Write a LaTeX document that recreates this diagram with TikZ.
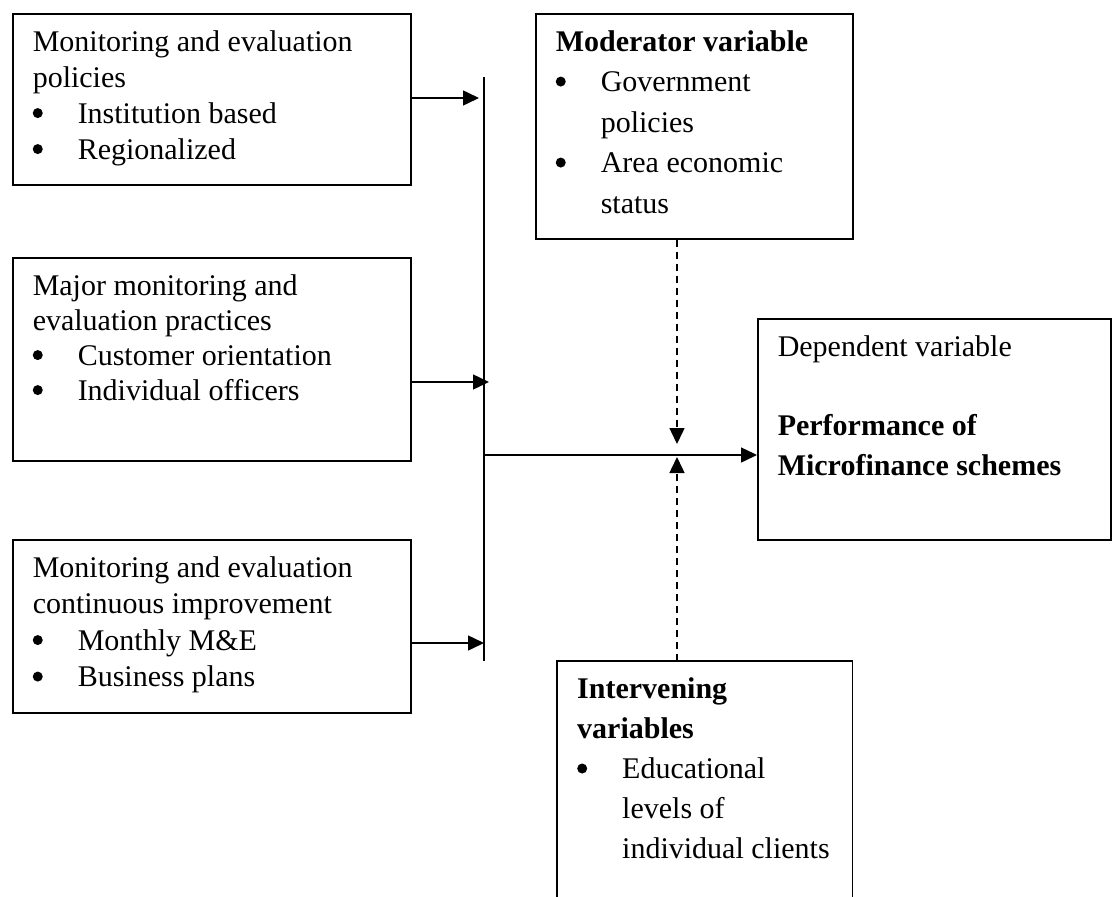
\documentclass[tikz,border=0pt]{standalone}
\usepackage{fontspec}
\setmainfont{Liberation Serif}
\usetikzlibrary{positioning, arrows.meta}
\tikzset{
  varbox/.style={
      rectangle,
      draw,
      line width=1.5pt,
      inner sep=0pt,
      anchor=north west
    },
  openbox/.style={
      rectangle,
      inner sep=0pt,
      anchor=north west
    },
  arr/.style={
      -{Triangle[length=16pt,width=15pt]},
      line width=1.5pt
    },
  darr/.style={
      arr,
      dash pattern=on 7pt off 5pt
    }
}
\newcommand{\itm}{\makebox[45pt][l]{\tikz[baseline={(0pt,-10pt)}]\fill (0pt,0pt) circle[radius=5pt];}}
\newcommand{\boxtext}[4]{\parbox[t][#2][t]{#1}{\fontsize{30}{#3}\selectfont\raggedright\leftskip=20pt\vspace*{16.5pt}#4}}

\begin{document}
\begin{tikzpicture}[x=1pt, y=-1pt]
  \useasboundingbox (0,0) rectangle (1112,897);
  % independent variables
  \node[varbox] (pol) at (12,13) {\boxtext{398pt}{171pt}{36pt}{Monitoring and evaluation\\ policies\\ \itm Institution based\\ \itm Regionalized}};
  \node[varbox] (prac) at (12,257) {\boxtext{398pt}{203pt}{35pt}{Major monitoring and\\ evaluation practices\\ \itm Customer orientation\\ \itm Individual officers}};
  \node[varbox] (impr) at (12,539) {\boxtext{398pt}{173pt}{36.5pt}{Monitoring and evaluation\\ continuous improvement\\ \itm Monthly M\&E\\ \itm Business plans}};
  % moderator, dependent, intervening
  \node[varbox] (mod) at (535,13) {\boxtext{317pt}{225pt}{40.5pt}{\textbf{Moderator variable}\\ \itm Government\\ \hspace*{45pt}policies\\ \itm Area economic\\ \hspace*{45pt}status}};
  \node[varbox] (dep) at (757,318) {\boxtext{353pt}{221pt}{40pt}{Dependent variable\\[39pt] \textbf{Performance of}\\ \textbf{Microfinance schemes}}};
  \node[openbox] (inter) at (557,661) {\boxtext{295pt}{236pt}{40pt}{\textbf{Intervening}\\ \textbf{variables}\\ \itm Educational\\ \hspace*{45pt}levels of\\ \hspace*{45pt}individual clients}};
  \draw[line width=1.5pt] (inter.south west) -- (inter.north west) -- (inter.north east) -- (inter.south east);

  \coordinate (bartop) at (484,77);
  \coordinate (barbot) at (484,661);
  \draw[line width=1.5pt] (bartop) -- (barbot);
  \coordinate (in1) at (479,98);
  \coordinate (in2) at (489,382);
  \coordinate (in3) at (484,643);
  \draw[arr] (pol.east |- in1) -- (in1);
  \draw[arr] (prac.east |- in2) -- (in2);
  \draw[arr] (impr.east |- in3) -- (in3);
  \coordinate (junc) at (484,455);
  \draw[arr] (junc) -- (dep.west |- junc);
  \coordinate (modtip) at (677,444);
  \coordinate (inttip) at (677,457);
  \draw[darr] (mod.south -| modtip) -- (modtip);
  \draw[darr] (inter.north -| inttip) -- (inttip);
\end{tikzpicture}
\end{document}
